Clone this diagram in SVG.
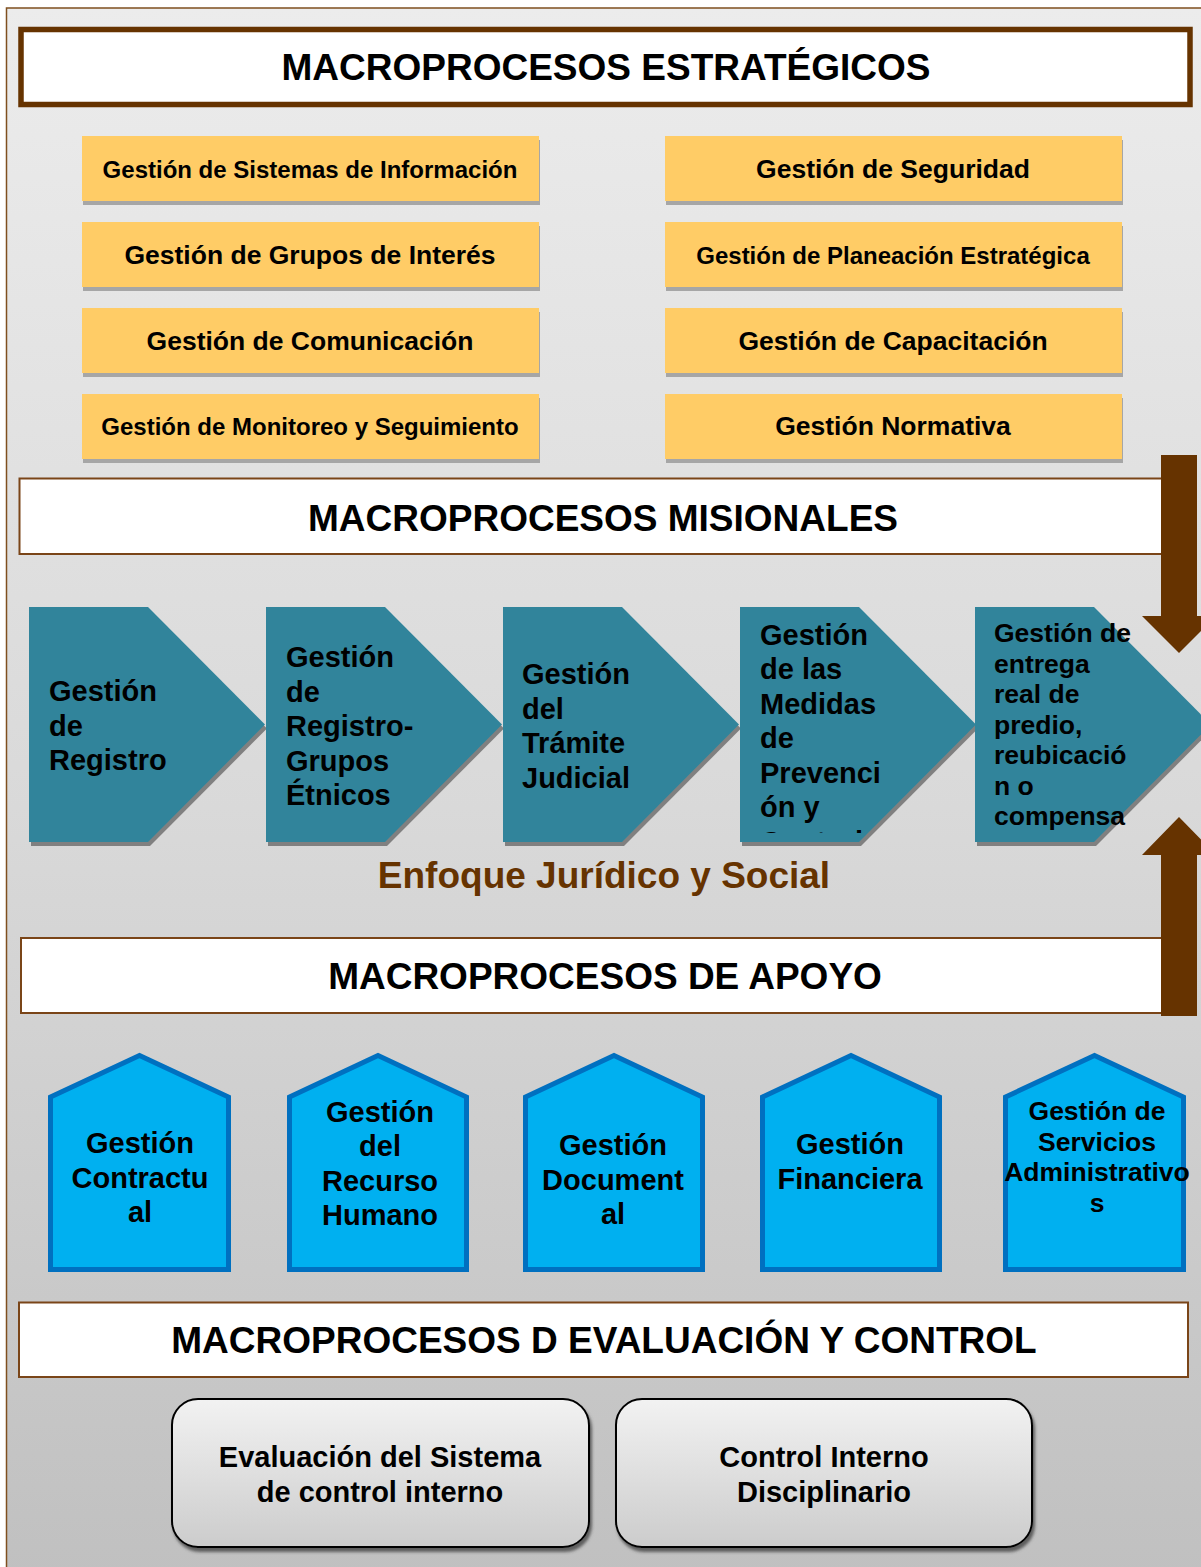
<svg xmlns="http://www.w3.org/2000/svg" width="1201" height="1567" viewBox="0 0 1201 1567">
<defs>
<linearGradient id="bg" x1="0" y1="0" x2="0" y2="1">
<stop offset="0" stop-color="#ececec"/>
<stop offset="0.5" stop-color="#d9d9d9"/>
<stop offset="1" stop-color="#bfbfbf"/>
</linearGradient>
<linearGradient id="rb" x1="0" y1="0" x2="0" y2="1">
<stop offset="0" stop-color="#f2f2f2"/>
<stop offset="1" stop-color="#cccccc"/>
</linearGradient>
<filter id="sh" x="-5%" y="-5%" width="115%" height="120%">
<feDropShadow dx="2" dy="4" stdDeviation="1.5" flood-color="#444" flood-opacity="0.8"/>
</filter>
<clipPath id="c4"><rect x="740" y="600" width="240" height="233"/></clipPath>
<clipPath id="c5"><rect x="975" y="600" width="240" height="233"/></clipPath>
</defs>
<style>
text{font-family:"Liberation Sans",Arial,sans-serif;font-weight:bold;fill:#000}
.hdr{font-size:37px;text-anchor:middle}
.y24{font-size:24px;text-anchor:middle}
.y26{font-size:26.5px;text-anchor:middle}
.ybox{fill:#ffcc66}
.yshd{fill:#a6a6a6}
.chev{fill:#31849b}
.chsh{fill:#808080}
.ct{font-size:29px}
.ct2{font-size:26.5px}
.pent{fill:#00b0f0;stroke:#0070c0;stroke-width:5}
.pt{font-size:29px;text-anchor:middle}
.pt2{font-size:26.5px;text-anchor:middle}
.sec{fill:#fff;stroke:#7a4518;stroke-width:2}
.arr{fill:#663300}
.rbox{fill:url(#rb);stroke:#000;stroke-width:2;filter:url(#sh)}
.bt{font-size:29px;text-anchor:middle}
</style>
<rect x="0" y="0" width="1201" height="1567" fill="#fff"/>
<rect x="6.5" y="8" width="1230" height="1600" fill="url(#bg)" stroke="#7f4f1f" stroke-width="1.5"/>

<g id="hdr-estrategicos">
<rect x="21" y="29.5" width="1169" height="75" fill="#fff" stroke="#663300" stroke-width="5.5"/>
<text class="hdr" x="606" y="80">MACROPROCESOS ESTRATÉGICOS</text>
</g>

<g id="e1"><rect class="yshd" x="83" y="140" width="457" height="65"/><rect class="ybox" x="82" y="136" width="457" height="65"/><text class="y24" x="310" y="177.5">Gestión de Sistemas de Información</text></g>
<g id="e2"><rect class="yshd" x="83" y="226" width="457" height="65"/><rect class="ybox" x="82" y="222" width="457" height="65"/><text class="y26" x="310" y="264">Gestión de Grupos de Interés</text></g>
<g id="e3"><rect class="yshd" x="83" y="312" width="457" height="65"/><rect class="ybox" x="82" y="308" width="457" height="65"/><text class="y26" x="310" y="350">Gestión de Comunicación</text></g>
<g id="e4"><rect class="yshd" x="83" y="398" width="457" height="65"/><rect class="ybox" x="82" y="394" width="457" height="65"/><text class="y24" x="310" y="435">Gestión de Monitoreo y Seguimiento</text></g>
<g id="e5"><rect class="yshd" x="666" y="140" width="457" height="65"/><rect class="ybox" x="665" y="136" width="457" height="65"/><text class="y26" x="893" y="178">Gestión de Seguridad</text></g>
<g id="e6"><rect class="yshd" x="666" y="226" width="457" height="65"/><rect class="ybox" x="665" y="222" width="457" height="65"/><text class="y24" x="893" y="263.5">Gestión de Planeación Estratégica</text></g>
<g id="e7"><rect class="yshd" x="666" y="312" width="457" height="65"/><rect class="ybox" x="665" y="308" width="457" height="65"/><text class="y26" x="893" y="350">Gestión de Capacitación</text></g>
<g id="e8"><rect class="yshd" x="666" y="398" width="457" height="65"/><rect class="ybox" x="665" y="394" width="457" height="65"/><text class="y26" x="893" y="435">Gestión Normativa</text></g>

<g id="hdr-misionales">
<rect class="sec" x="19.5" y="478.5" width="1160" height="75.5"/>
<text class="hdr" x="603" y="531">MACROPROCESOS MISIONALES</text>
</g>

<g id="m1">
<polygon class="chsh" points="31,611 150,611 267,728.5 150,846 31,846"/>
<polygon class="chev" points="29,607 148,607 265,724.5 148,842 29,842"/>
<text class="ct" x="49" y="701">Gestión</text>
<text class="ct" x="49" y="735.5">de</text>
<text class="ct" x="49" y="770">Registro</text>
</g>
<g id="m2">
<polygon class="chsh" points="268,611 387,611 504,728.5 387,846 268,846"/>
<polygon class="chev" points="266,607 385,607 502,724.5 385,842 266,842"/>
<text class="ct" x="286" y="667">Gestión</text>
<text class="ct" x="286" y="701.5">de</text>
<text class="ct" x="286" y="736">Registro-</text>
<text class="ct" x="286" y="770.5">Grupos</text>
<text class="ct" x="286" y="805">Étnicos</text>
</g>
<g id="m3">
<polygon class="chsh" points="505,611 624,611 741,728.5 624,846 505,846"/>
<polygon class="chev" points="503,607 622,607 739,724.5 622,842 503,842"/>
<text class="ct" x="522" y="684">Gestión</text>
<text class="ct" x="522" y="718.5">del</text>
<text class="ct" x="522" y="753">Trámite</text>
<text class="ct" x="522" y="787.5">Judicial</text>
</g>
<g id="m4">
<polygon class="chsh" points="742,611 861,611 978,728.5 861,846 742,846"/>
<polygon class="chev" points="740,607 859,607 976,724.5 859,842 740,842"/>
<g clip-path="url(#c4)">
<text class="ct" x="760" y="644.5">Gestión</text>
<text class="ct" x="760" y="679">de las</text>
<text class="ct" x="760" y="713.5">Medidas</text>
<text class="ct" x="760" y="748">de</text>
<text class="ct" x="760" y="782.5">Prevenci</text>
<text class="ct" x="760" y="817">ón y</text>
<text class="ct" x="760" y="851.5">Control</text>
</g>
</g>
<g id="m5">
<polygon class="chsh" points="977,611 1096,611 1213,728.5 1096,846 977,846"/>
<polygon class="chev" points="975,607 1094,607 1211,724.5 1094,842 975,842"/>
<g clip-path="url(#c5)">
<text class="ct2" x="994" y="642">Gestión de</text>
<text class="ct2" x="994" y="672.5">entrega</text>
<text class="ct2" x="994" y="703">real de</text>
<text class="ct2" x="994" y="733.5">predio,</text>
<text class="ct2" x="994" y="764">reubicació</text>
<text class="ct2" x="994" y="794.5">n o</text>
<text class="ct2" x="994" y="825">compensa</text>
</g>
</g>

<text id="enfoque" x="604" y="888" font-size="37" text-anchor="middle" style="fill:#663300">Enfoque Jurídico y Social</text>

<g id="hdr-apoyo">
<rect class="sec" x="21" y="938" width="1158" height="75"/>
<text class="hdr" x="605" y="989">MACROPROCESOS DE APOYO</text>
</g>

<g id="connectors">
<polygon class="arr" points="1161,455 1197,455 1197,616 1216,616 1179,653 1142,616 1161,616"/>
<polygon class="arr" points="1161,1016 1197,1016 1197,855 1216,855 1179,817 1142,855 1161,855"/>
</g>

<g id="a1">
<polygon class="pent" points="50.5,1097 139.5,1055.5 228.5,1097 228.5,1269.5 50.5,1269.5"/>
<text class="pt" x="140" y="1153">Gestión</text>
<text class="pt" x="140" y="1187.5">Contractu</text>
<text class="pt" x="140" y="1222">al</text>
</g>
<g id="a2">
<polygon class="pent" points="289.5,1097 378,1055.5 466.5,1097 466.5,1269.5 289.5,1269.5"/>
<text class="pt" x="380" y="1121.5">Gestión</text>
<text class="pt" x="380" y="1156">del</text>
<text class="pt" x="380" y="1190.5">Recurso</text>
<text class="pt" x="380" y="1225">Humano</text>
</g>
<g id="a3">
<polygon class="pent" points="525.5,1097 614,1055.5 702.5,1097 702.5,1269.5 525.5,1269.5"/>
<text class="pt" x="613" y="1155">Gestión</text>
<text class="pt" x="613" y="1189.5">Document</text>
<text class="pt" x="613" y="1224">al</text>
</g>
<g id="a4">
<polygon class="pent" points="762.5,1097 851,1055.5 939.5,1097 939.5,1269.5 762.5,1269.5"/>
<text class="pt" x="850" y="1154">Gestión</text>
<text class="pt" x="850" y="1188.5">Financiera</text>
</g>
<g id="a5">
<polygon class="pent" points="1005.5,1097 1094.5,1055.5 1183.5,1097 1183.5,1269.5 1005.5,1269.5"/>
<text class="pt2" x="1097" y="1120">Gestión de</text>
<text class="pt2" x="1097" y="1150.5">Servicios</text>
<text class="pt2" x="1097" y="1181">Administrativo</text>
<text class="pt2" x="1097" y="1211.5">s</text>
</g>

<g id="hdr-evaluacion">
<rect class="sec" x="19" y="1302.5" width="1169" height="74.5"/>
<text class="hdr" x="604" y="1353">MACROPROCESOS D EVALUACIÓN Y CONTROL</text>
</g>

<g id="c1">
<rect class="rbox" x="172" y="1399" width="417" height="148" rx="26" ry="26"/>
<text class="bt" x="380" y="1467">Evaluación del Sistema</text>
<text class="bt" x="380" y="1501.5">de control interno</text>
</g>
<g id="c2">
<rect class="rbox" x="616" y="1399" width="416" height="148" rx="26" ry="26"/>
<text class="bt" x="824" y="1467">Control Interno</text>
<text class="bt" x="824" y="1501.5">Disciplinario</text>
</g>
</svg>
